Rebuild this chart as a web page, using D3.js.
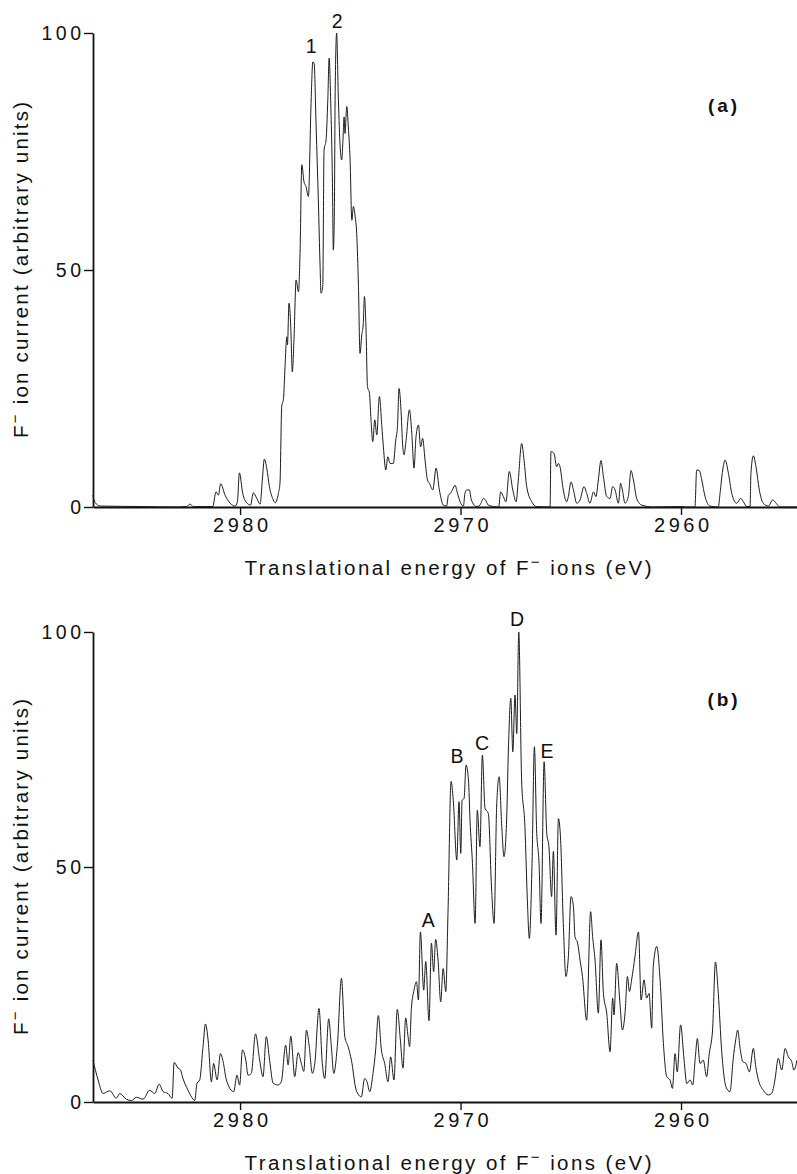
<!DOCTYPE html>
<html>
<head>
<meta charset="utf-8">
<script src="https://cdn.jsdelivr.net/npm/d3@7"></script>
<style>
  body { margin: 0; background: #fff; }
  svg { display: block; }
  text { font-family: "Liberation Sans", Arial, sans-serif; fill: #111; }
</style>
</head>
<body>
<svg id="grafica" width="797" height="1174"></svg>
<script>
// datos: energia (eV) y corriente de F- (unidades arbitrarias)
let energiaA = [
    2986.68, 2986.58, 2986.35, 2984.5, 2983.0, 2982.42, 2982.27, 2982.12, 2981.24, 2981.09,
    2980.98, 2980.88, 2980.68, 2980.45, 2980.23, 2980.12, 2980.03, 2979.88, 2979.70, 2979.52,
    2979.40, 2979.24, 2979.09, 2978.99, 2978.90, 2978.79, 2978.67, 2978.52, 2978.40, 2978.26,
    2978.19, 2978.11, 2978.03, 2977.96, 2977.88, 2977.85, 2977.78, 2977.70, 2977.63, 2977.55,
    2977.46, 2977.35, 2977.28, 2977.20, 2977.10, 2977.01, 2976.90, 2976.78, 2976.70, 2976.64,
    2976.55, 2976.45, 2976.37, 2976.33, 2976.25, 2976.19, 2976.10, 2976.02, 2975.96, 2975.89,
    2975.81, 2975.77, 2975.72, 2975.69, 2975.62, 2975.54, 2975.46, 2975.39, 2975.34, 2975.28,
    2975.24, 2975.16, 2975.09, 2975.01, 2974.93, 2974.86, 2974.78, 2974.71, 2974.63, 2974.56,
    2974.48, 2974.41, 2974.36, 2974.29, 2974.22, 2974.13, 2974.07, 2973.98, 2973.89, 2973.80,
    2973.68, 2973.57, 2973.50, 2973.39, 2973.30, 2973.20, 2973.05, 2972.94, 2972.86, 2972.79,
    2972.71, 2972.62, 2972.56, 2972.47, 2972.32, 2972.21, 2972.11, 2972.02, 2971.91, 2971.81,
    2971.72, 2971.61, 2971.50, 2971.41, 2971.26, 2971.11, 2970.96, 2970.78, 2970.63, 2970.55,
    2970.45, 2970.36, 2970.25, 2970.14, 2970.02, 2969.87, 2969.80, 2969.72, 2969.60, 2969.51,
    2969.27, 2969.12, 2968.96, 2968.89, 2968.74, 2968.51, 2968.27, 2968.18, 2968.06, 2967.94,
    2967.79, 2967.63, 2967.48, 2967.38, 2967.23, 2967.12, 2967.00, 2966.77, 2966.55, 2965.94,
    2965.90, 2965.76, 2965.64, 2965.56, 2965.49, 2965.34, 2965.19, 2965.11, 2964.99, 2964.88,
    2964.73, 2964.58, 2964.40, 2964.28, 2964.13, 2963.97, 2963.86, 2963.75, 2963.63, 2963.52,
    2963.37, 2963.22, 2963.10, 2962.99, 2962.84, 2962.74, 2962.66, 2962.54, 2962.39, 2962.27,
    2962.16, 2962.01, 2961.78, 2961.25, 2959.97, 2959.82, 2959.37, 2959.29, 2959.17, 2959.06,
    2958.91, 2958.69, 2958.31, 2958.23, 2958.11, 2958.00, 2957.85, 2957.70, 2957.48, 2957.29,
    2957.17, 2957.02, 2956.87, 2956.83, 2956.72, 2956.60, 2956.45, 2956.27, 2956.04, 2955.84,
    2955.69, 2955.51, 2954.74
];
let corrienteA = [
    2.5, 1.0, 0.2, 0.1, 0.0, 0.1, 0.6, 0.1, 0.1, 3.2,
    2.5, 4.9, 2.5, 0.8, 0.2, 1.1, 7.2, 2.9, 0.9, 0.4,
    3.0, 1.8, 0.6, 5.7, 10.1, 8.2, 4.3, 1.8, 0.9, 2.9,
    5.0, 21.2, 22.9, 29.6, 35.9, 34.2, 43.0, 38.0, 28.5, 35.9,
    47.9, 45.4, 53.5, 72.2, 68.6, 67.6, 65.5, 85.2, 93.9, 93.6,
    80.2, 64.8, 50.7, 45.1, 46.5, 75.3, 77.4, 85.9, 94.7, 85.9,
    68.3, 54.2, 63.4, 85.9, 100, 85.9, 76.0, 73.2, 76.7, 82.3,
    78.8, 84.5, 80.2, 73.2, 60.5, 63.4, 61.3, 57.7, 46.5, 32.4,
    36.3, 38.7, 44.4, 38.0, 25.4, 24.0, 19.1, 13.8, 18.4, 15.2,
    23.3, 17.0, 12.7, 7.8, 10.6, 9.2, 9.2, 14.1, 17.0, 25.0,
    21.2, 12.7, 11.0, 14.1, 20.5, 15.5, 8.2, 14.8, 17.3, 12.7,
    14.5, 9.9, 5.7, 5.0, 3.6, 8.2, 3.6, 0.4, 0.2, 2.5,
    2.9, 3.7, 4.6, 2.9, 1.1, 0.2, 2.9, 3.6, 3.6, 1.5,
    0.1, 0.4, 1.8, 1.6, 0.4, 0.1, 0.0, 3.2, 2.2, 1.1,
    7.5, 3.6, 1.1, 5.7, 13.4, 9.9, 4.3, 1.1, 0.1, 0.0,
    11.7, 11.3, 8.5, 9.2, 8.5, 3.6, 1.1, 2.2, 5.3, 3.6,
    0.8, 1.5, 4.3, 2.9, 0.8, 3.2, 2.2, 5.7, 9.8, 6.4,
    2.2, 1.8, 4.3, 3.6, 0.8, 5.0, 3.6, 0.8, 2.2, 7.7,
    5.7, 1.8, 0.4, 0.0, 0.1, 0.0, 0.0, 7.8, 7.7, 5.7,
    2.2, 0.2, 0.0, 2.9, 7.8, 9.9, 7.1, 2.9, 0.8, 1.8,
    1.1, 0.1, 0.1, 7.1, 10.8, 8.5, 3.6, 0.8, 0.2, 1.5,
    0.8, 0.0, 0.0
];

let energiaB = [
    2986.67, 2986.44, 2986.21, 2985.91, 2985.61, 2985.46, 2985.16, 2984.93, 2984.70, 2984.40,
    2984.10, 2983.87, 2983.67, 2983.49, 2983.27, 2983.08, 2982.99, 2982.81, 2982.71, 2982.59,
    2982.36, 2982.13, 2982.06, 2981.95, 2981.83, 2981.68, 2981.57, 2981.45, 2981.30, 2981.20,
    2981.04, 2980.89, 2980.77, 2980.62, 2980.29, 2980.14, 2980.02, 2979.89, 2979.74, 2979.64,
    2979.49, 2979.30, 2979.11, 2978.96, 2978.81, 2978.66, 2978.50, 2978.28, 2978.13, 2977.93,
    2977.82, 2977.70, 2977.52, 2977.37, 2977.22, 2977.11, 2976.99, 2976.87, 2976.72, 2976.61,
    2976.42, 2976.27, 2976.16, 2975.98, 2975.86, 2975.75, 2975.59, 2975.40, 2975.25, 2975.10,
    2974.95, 2974.73, 2974.50, 2974.35, 2974.24, 2974.12, 2973.97, 2973.85, 2973.73, 2973.59,
    2973.44, 2973.29, 2973.17, 2973.02, 2972.87, 2972.73, 2972.61, 2972.49, 2972.38, 2972.31,
    2972.23, 2972.11, 2972.00, 2971.91, 2971.82, 2971.67, 2971.58, 2971.43, 2971.32, 2971.22,
    2971.13, 2971.02, 2970.90, 2970.79, 2970.67, 2970.57, 2970.43, 2970.33, 2970.17, 2970.07,
    2969.99, 2969.93, 2969.84, 2969.75, 2969.64, 2969.57, 2969.46, 2969.34, 2969.24, 2969.12,
    2969.01, 2968.89, 2968.74, 2968.59, 2968.48, 2968.36, 2968.25, 2968.13, 2968.03, 2967.91,
    2967.83, 2967.72, 2967.63, 2967.53, 2967.45, 2967.36, 2967.23, 2967.08, 2966.97, 2966.88,
    2966.76, 2966.65, 2966.55, 2966.44, 2966.35, 2966.21, 2966.09, 2965.99, 2965.87, 2965.79,
    2965.67, 2965.56, 2965.46, 2965.34, 2965.22, 2965.11, 2964.99, 2964.88, 2964.81, 2964.69,
    2964.58, 2964.47, 2964.28, 2964.10, 2964.01, 2963.90, 2963.75, 2963.63, 2963.52, 2963.37,
    2963.22, 2963.10, 2963.04, 2962.92, 2962.77, 2962.66, 2962.54, 2962.43, 2962.34, 2962.24,
    2962.09, 2961.93, 2961.81, 2961.68, 2961.56, 2961.45, 2961.33, 2961.26, 2961.10, 2960.95,
    2960.80, 2960.65, 2960.50, 2960.39, 2960.27, 2960.17, 2960.02, 2959.86, 2959.74, 2959.59,
    2959.47, 2959.35, 2959.26, 2959.14, 2958.99, 2958.84, 2958.72, 2958.57, 2958.44, 2958.31,
    2958.16, 2957.96, 2957.78, 2957.63, 2957.52, 2957.43, 2957.32, 2957.20, 2957.05, 2956.90,
    2956.72, 2956.61, 2956.49, 2956.27, 2956.04, 2955.89, 2955.74, 2955.59, 2955.43, 2955.28,
    2955.13, 2954.98, 2954.88, 2954.74
];
let corrienteB = [
    8.9, 4.7, 1.8, 2.4, 0.8, 1.8, 0.6, 0.3, 1.0, 0.6,
    2.5, 1.8, 3.8, 2.2, 1.8, 0.8, 8.4, 7.2, 6.9, 5.0,
    2.5, 0.6, 0.3, 4.0, 4.7, 11.8, 16.6, 13.2, 4.3, 8.2,
    4.7, 10.3, 8.6, 4.7, 2.2, 5.7, 3.6, 11.1, 8.9, 5.7,
    6.1, 14.5, 8.9, 5.4, 13.9, 8.9, 4.0, 3.6, 4.3, 12.1,
    7.9, 14.0, 5.4, 10.5, 8.2, 6.5, 15.3, 12.1, 6.1, 8.2,
    19.9, 8.2, 5.0, 17.7, 11.8, 6.1, 11.8, 26.3, 13.9, 11.8,
    8.9, 2.5, 1.1, 5.0, 4.3, 2.2, 6.1, 11.1, 18.4, 11.1,
    8.2, 4.3, 9.6, 4.7, 19.7, 13.2, 7.2, 17.9, 13.9, 11.8,
    19.9, 23.8, 25.6, 21.7, 36.2, 23.8, 29.9, 17.3, 33.8, 27.7,
    34.6, 30.2, 21.3, 28.4, 23.5, 40.1, 68.2, 64.2, 51.5, 63.9,
    52.9, 64.2, 64.6, 71.7, 68.5, 60.0, 50.8, 38.0, 62.1, 54.3,
    73.8, 62.5, 61.4, 45.1, 38.0, 63.2, 69.2, 58.6, 52.2, 60.0,
    74.9, 85.9, 74.5, 86.6, 78.4, 100, 68.5, 58.6, 43.0, 34.8,
    50.1, 75.6, 57.9, 50.8, 38.0, 72.4, 57.2, 54.3, 43.7, 53.3,
    35.5, 60.3, 55.7, 38.0, 26.7, 30.9, 43.7, 41.6, 35.2, 33.8,
    30.2, 26.7, 17.4, 40.5, 35.2, 30.2, 18.9, 34.5, 23.1, 18.9,
    10.7, 22.1, 18.5, 29.5, 21.0, 15.3, 18.9, 26.7, 23.5, 26.0,
    30.9, 36.2, 21.7, 26.0, 22.1, 23.1, 15.7, 28.8, 33.1, 26.0,
    12.5, 5.4, 4.7, 2.9, 10.3, 6.4, 16.4, 8.9, 3.9, 4.7,
    3.6, 9.6, 13.5, 8.2, 8.9, 5.4, 10.3, 15.3, 29.8, 23.1,
    11.1, 3.2, 2.2, 9.3, 13.2, 15.3, 11.4, 8.6, 8.2, 6.4,
    11.4, 7.5, 4.7, 2.5, 1.5, 1.8, 4.7, 9.3, 6.8, 11.4,
    9.6, 8.6, 6.8, 8.9
];

let ticksX = [2980, 2970, 2960];
let ticksY = [0, 50, 100];

// etiquetas de los picos (texto, energia, altura)
let picosA = ["1", "2"];
let picosAEnergia = [2976.78, 2975.60];
let picosAAltura = [95.8, 101.1];
let picosB = ["A", "B", "C", "D", "E"];
let picosBEnergia = [2971.47, 2970.16, 2969.03, 2967.44, 2966.08];
let picosBAltura = [37.2, 72.1, 74.9, 101.3, 73.2];

let svg = d3.select('#grafica');

// escala x invertida, la energia baja hacia la derecha
let x = d3.scaleLinear()
    .domain([2986.67, 2954.74])
    .range([93, 797]);

function graficarPanel(energia, corriente, arriba, abajo, picos, picosE, picosV, marca, marcaV) {
    let y = d3.scaleLinear().domain([0, 100]).range([abajo, arriba]);
    let g = svg.append('g');

    // eje x
    let ejeX = g.append('g')
        .attr('transform', `translate(0,${abajo})`)
        .call(d3.axisBottom(x).tickValues(ticksX).tickSize(8).tickSizeOuter(0).tickPadding(3).tickFormat(d3.format('d')));
    ejeX.select('.domain').attr('stroke', '#111').attr('stroke-width', 1.8);
    ejeX.selectAll('.tick line').attr('stroke', '#111').attr('stroke-width', 1.4);
    ejeX.selectAll('.tick text')
        .attr('font-family', '"Liberation Sans", Arial, sans-serif')
        .attr('font-size', 20)
        .attr('letter-spacing', 3.5)
        .attr('dx', 1.75)
        .attr('fill', '#111');

    // eje y
    let ejeY = g.append('g')
        .attr('transform', 'translate(93,0)')
        .call(d3.axisLeft(y).tickValues(ticksY).tickSize(9).tickSizeOuter(0).tickPadding(3));
    ejeY.select('.domain').attr('stroke', '#111').attr('stroke-width', 1.8);
    ejeY.selectAll('.tick line').attr('stroke', '#111').attr('stroke-width', 1.4);
    ejeY.selectAll('.tick text')
        .attr('font-family', '"Liberation Sans", Arial, sans-serif')
        .attr('font-size', 19.5)
        .attr('letter-spacing', 3.5)
        .attr('dx', 3.5)
        .attr('fill', '#111');

    // el espectro, suavizado sin pasarse de los maximos
    let linea = d3.line()
        .curve(d3.curveMonotoneX)
        .x((i) => {
            return x(energia[i]);
        })
        .y((i) => {
            return y(corriente[i]);
        });
    g.append('path')
        .datum(d3.range(energia.length))
        .attr('d', linea)
        .attr('fill', 'none')
        .attr('stroke', '#1c1c1c')
        .attr('stroke-width', 1)
        .attr('stroke-linejoin', 'round');

    // titulo eje x con el F- en superindice
    let tx = g.append('text')
        .attr('x', (x.range()[0] + x.range()[1]) / 2 + 3)
        .attr('y', abajo + 68)
        .attr('text-anchor', 'middle')
        .attr('font-size', 20.5)
        .attr('textLength', 407)
        .attr('lengthAdjust', 'spacing');
    tx.append('tspan').text('Translational energy of F');
    tx.append('tspan').attr('dy', -8).attr('font-size', 15).text('\u2212');
    tx.append('tspan').attr('dy', 8).text(' ions (eV)');

    // titulo eje y
    let ty = g.append('text')
        .attr('transform', `translate(28,${(arriba + abajo) / 2}) rotate(-90)`)
        .attr('text-anchor', 'middle')
        .attr('font-size', 20.5)
        .attr('textLength', 336)
        .attr('lengthAdjust', 'spacing');
    ty.append('tspan').text('F');
    ty.append('tspan').attr('dy', -8).attr('font-size', 15).text('\u2212');
    ty.append('tspan').attr('dy', 8).text(' ion current (arbitrary units)');

    // etiquetas de picos
    g.selectAll('.pico')
        .data(picos)
        .enter()
        .append('text')
        .attr('class', 'pico')
        .attr('x', (d, i) => {
            return x(picosE[i]);
        })
        .attr('y', (d, i) => {
            return y(picosV[i]);
        })
        .attr('text-anchor', 'middle')
        .attr('font-size', 19.5)
        .text((d) => {
            return d;
        });

    // marca del panel
    g.append('text')
        .attr('x', x(2958.14) + 2)
        .attr('y', y(marcaV))
        .attr('text-anchor', 'middle')
        .attr('font-size', 19)
        .attr('letter-spacing', 3)
        .attr('font-weight', 'bold')
        .text(marca);
}

graficarPanel(energiaA, corrienteA, 33, 507, picosA, picosAEnergia, picosAAltura, '(a)', 83.3);
graficarPanel(energiaB, corrienteB, 632, 1102, picosB, picosBEnergia, picosBAltura, '(b)', 84.3);
</script>
</body>
</html>
